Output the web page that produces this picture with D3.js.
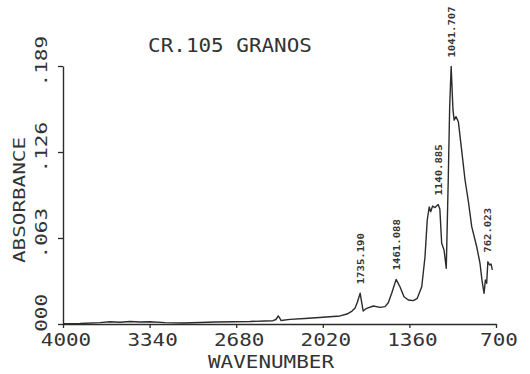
<!DOCTYPE html>
<html>
<head>
<meta charset="utf-8">
<script src="https://cdn.jsdelivr.net/npm/d3@7"></script>
<style>
  html, body { margin: 0; padding: 0; background: #fff; }
  svg { display: block; }
  text { font-family: "DejaVu Sans Mono", monospace; fill: #333; }
</style>
</head>
<body>
<svg id="chart" width="530" height="374"></svg>
<script>
// IR absorbance spectrum, sample CR.105 GRANOS
const title = "CR.105 GRANOS";
const xTicks = [4000, 3340, 2680, 2020, 1360, 700];
const yTicks = [0, 0.063, 0.126, 0.189];
const yTickLabels = ["000", ".063", ".126", ".189"];

// spectrum trace: wavenumber (cm-1) and absorbance
const wavenumber = [
  4000, 3870, 3718, 3642, 3566, 3489, 3413, 3337, 3223, 3085,
  2956, 2842, 2704, 2575, 2461, 2400, 2377, 2359, 2346, 2339,
  2270, 2156, 2019, 1889, 1836, 1797, 1774, 1756, 1735.19, 1724,
  1712, 1686, 1635, 1584, 1546, 1521, 1495, 1461.088, 1432, 1401,
  1368, 1330, 1300, 1266, 1241, 1224, 1209, 1198, 1183, 1165,
  1140.885, 1128, 1114, 1096, 1079, 1064, 1053, 1041.707, 1028, 1019,
  1005, 987, 962, 936, 911, 885, 847, 822, 807, 791,
  781, 771, 762.023, 748, 738, 728
];
const absorbance = [
  0.0002, 0.0004, 0.0010, 0.0017, 0.0013, 0.0018, 0.0015, 0.0017, 0.0010, 0.0007,
  0.0011, 0.0015, 0.0017, 0.0018, 0.0022, 0.0024, 0.0033, 0.0059, 0.0040, 0.0026,
  0.0034, 0.0040, 0.0049, 0.0059, 0.0073, 0.0095, 0.0117, 0.0161, 0.0225, 0.0161,
  0.0095, 0.0115, 0.0132, 0.0122, 0.0127, 0.0156, 0.0225, 0.0327, 0.0273, 0.0200,
  0.0176, 0.0171, 0.0188, 0.0273, 0.0493, 0.0762, 0.0857, 0.0823, 0.0864, 0.0853,
  0.0875, 0.0842, 0.0591, 0.0542, 0.0408, 0.1055, 0.1592, 0.1886, 0.1568, 0.1494,
  0.1519, 0.1482, 0.1275, 0.1055, 0.0901, 0.0713, 0.0566, 0.0445, 0.0322, 0.0225,
  0.0322, 0.0298, 0.0456, 0.0432, 0.0440, 0.0396
];

// labelled peaks
const peakWavenumbers = [1735.19, 1461.088, 1140.885, 1041.707, 762.023];
const peakLabels = ["1735.190", "1461.088", "1140.885", "1041.707", "762.023"];

const svg = d3.select("#chart");
const ink = "#2b2b2b";

const x = d3.scaleLinear().domain([4000, 700]).range([63, 496]);
const y = d3.scaleLinear().domain([0, 0.189]).range([324, 66]);

// wide plotter-style lettering
const ADV = 12.6;
function plotText(sel, str, size, adv) {
  return sel.text(str)
    .attr("font-size", size)
    .attr("textLength", str.length * adv)
    .attr("lengthAdjust", "spacingAndGlyphs");
}

// axes
const xAxis = d3.axisBottom(x).tickValues(xTicks).tickSize(4).tickSizeOuter(0).tickFormat("");
const yAxis = d3.axisLeft(y).tickValues(yTicks).tickSize(5).tickSizeOuter(0).tickFormat("");

const gx = svg.append("g").attr("transform", `translate(0,${y(0)})`).call(xAxis);
const gy = svg.append("g").attr("transform", `translate(${x(4000)},0)`).call(yAxis);
[gx, gy].forEach(g => {
  g.select(".domain").attr("stroke", ink).attr("stroke-width", 1.4);
  g.selectAll(".tick line").attr("stroke", ink).attr("stroke-width", 1.3);
});

// x tick labels
svg.append("g").selectAll("text").data(xTicks).join("text")
  .attr("x", d => x(d) + 3)
  .attr("y", 346)
  .attr("text-anchor", "middle")
  .each(function(d) { plotText(d3.select(this), String(d), 17.5, ADV); });

// y tick labels, rotated
svg.append("g").selectAll("text").data(yTicks).join("text")
  .attr("transform", (d) => `translate(47,${y(d) - 30}) rotate(-90)`)
  .attr("text-anchor", "end")
  .each(function(d, i) { plotText(d3.select(this), yTickLabels[i], 16.5, ADV); });

// axis titles
plotText(svg.append("text").attr("x", 271).attr("y", 368).attr("text-anchor", "middle"),
  "WAVENUMBER", 17.5, ADV);
plotText(svg.append("text").attr("transform", "translate(25,200) rotate(-90)").attr("text-anchor", "middle"),
  "ABSORBANCE", 16.5, ADV);

// chart title
plotText(svg.append("text").attr("x", 230).attr("y", 51.5).attr("text-anchor", "middle"),
  title, 19.5, ADV);

// spectrum trace
const pts = wavenumber.map((w, i) => [w, absorbance[i]]);
svg.append("path")
  .datum(pts)
  .attr("fill", "none")
  .attr("stroke", ink)
  .attr("stroke-width", 1.4)
  .attr("stroke-linejoin", "round")
  .attr("d", d3.line().x(d => x(d[0])).y(d => y(d[1])));

// peak annotations
svg.append("g").selectAll("text").data(peakWavenumbers).join("text")
  .attr("transform", (w) => {
    const a = absorbance[wavenumber.indexOf(w)];
    return `translate(${x(w)},${y(a) - 9}) rotate(-90)`;
  })
  .attr("dy", "0.36em")
  .attr("text-anchor", "start")
  .attr("font-weight", "bold")
  .each(function(w, i) { plotText(d3.select(this), peakLabels[i], 9.5, 6.4); });
</script>
</body>
</html>
